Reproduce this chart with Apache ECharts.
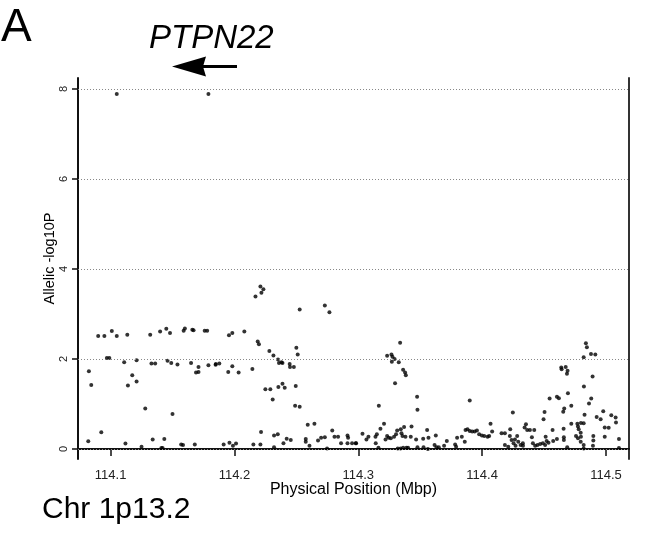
<!DOCTYPE html>
<html>
<head>
<meta charset="utf-8">
<script src="https://cdn.jsdelivr.net/npm/echarts@6/dist/echarts.min.js"></script>
<style>
  html, body { margin: 0; padding: 0; background: #fff; }
  #chart { width: 648px; height: 537px; }
</style>
</head>
<body>
<div id="chart"></div>
<script>
// [position (Mbp), allelic -log10P]
const peakPts = [[114.105, 7.89], [114.179, 7.89]];

const westPts = [
  [114.090, 2.51], [114.095, 2.51], [114.101, 2.62], [114.105, 2.51], [114.1135, 2.54],
  [114.132, 2.54], [114.140, 2.61], [114.145, 2.67], [114.148, 2.58], [114.159, 2.63],
  [114.160, 2.68], [114.166, 2.65], [114.167, 2.64], [114.176, 2.63], [114.178, 2.63],
  [114.097, 2.02], [114.099, 2.02], [114.111, 1.93], [114.121, 1.97], [114.133, 1.90],
  [114.136, 1.90], [114.146, 1.96], [114.149, 1.91], [114.154, 1.88], [114.165, 1.91],
  [114.171, 1.82], [114.169, 1.70], [114.171, 1.71], [114.179, 1.86], [114.185, 1.89],
  [114.0825, 1.73], [114.0844, 1.42], [114.1175, 1.64], [114.114, 1.41], [114.121, 1.50],
  [114.128, 0.90], [114.150, 0.78],
  [114.082, 0.17], [114.0925, 0.37], [114.112, 0.12], [114.125, 0.05], [114.134, 0.21],
  [114.141, 0.02], [114.142, 0.02], [114.1434, 0.22], [114.157, 0.10], [114.1585, 0.09],
  [114.168, 0.10]
];

const midPts = [
  [114.221, 3.61], [114.2234, 3.55], [114.2218, 3.47], [114.217, 3.39], [114.2527, 3.10],
  [114.273, 3.19], [114.2767, 3.04],
  [114.1956, 2.53], [114.1983, 2.58], [114.208, 2.61], [114.2188, 2.39], [114.2198, 2.33],
  [114.2282, 2.18], [114.2315, 2.08], [114.2352, 1.99], [114.236, 1.91], [114.238, 1.93],
  [114.2388, 1.91], [114.250, 2.25], [114.2511, 2.10], [114.2446, 1.89], [114.2449, 1.82],
  [114.248, 1.82], [114.1848, 1.87], [114.1878, 1.90], [114.1983, 1.84], [114.195, 1.71],
  [114.2034, 1.70], [114.2145, 1.78],
  [114.225, 1.33], [114.229, 1.33], [114.2355, 1.38], [114.2388, 1.45], [114.2406, 1.36],
  [114.2495, 1.40], [114.2309, 1.10], [114.249, 0.96], [114.2527, 0.94],
  [114.2592, 0.54], [114.2646, 0.56], [114.279, 0.41], [114.2215, 0.38], [114.232, 0.30],
  [114.235, 0.33], [114.1913, 0.10], [114.196, 0.14], [114.1988, 0.07], [114.2013, 0.12],
  [114.2153, 0.10], [114.221, 0.10], [114.232, 0.04], [114.2396, 0.13], [114.2422, 0.23],
  [114.2455, 0.20], [114.2576, 0.22], [114.2576, 0.16], [114.2606, 0.07], [114.2675, 0.19],
  [114.270, 0.25], [114.273, 0.26], [114.2748, 0.01], [114.2808, 0.27], [114.2837, 0.27],
  [114.2861, 0.13], [114.2913, 0.30], [114.2918, 0.25], [114.2913, 0.13], [114.295, 0.13],
  [114.2982, 0.13]
];

const eastPts = [
  [114.3338, 2.36], [114.3233, 2.07], [114.3268, 2.10], [114.3276, 2.05], [114.3293, 2.00],
  [114.3271, 1.94], [114.3327, 1.93], [114.3362, 1.76], [114.3378, 1.70], [114.3384, 1.64],
  [114.3297, 1.46], [114.3475, 1.16], [114.3478, 0.87], [114.3166, 0.96], [114.390, 1.08],
  [114.298, 0.13], [114.3034, 0.34], [114.3066, 0.21], [114.3082, 0.27], [114.3139, 0.27],
  [114.315, 0.33], [114.3141, 0.13], [114.3163, 0.03], [114.3179, 0.45], [114.3208, 0.56],
  [114.322, 0.21], [114.3233, 0.29], [114.3246, 0.25], [114.3263, 0.24], [114.3289, 0.27],
  [114.3305, 0.33], [114.3314, 0.41], [114.3343, 0.44], [114.3349, 0.35], [114.3357, 0.29],
  [114.337, 0.49], [114.3381, 0.27], [114.3319, 0.01], [114.3341, 0.01], [114.3362, 0.03],
  [114.3389, 0.03], [114.3402, 0.03], [114.343, 0.50], [114.3424, 0.27], [114.3467, 0.21],
  [114.3478, 0.04], [114.3524, 0.23], [114.3527, 0.04], [114.3556, 0.42], [114.3567, 0.25],
  [114.3562, 0.00], [114.3616, 0.09], [114.3626, 0.30], [114.3632, 0.04], [114.365, 0.04],
  [114.3693, 0.07], [114.3715, 0.18], [114.3782, 0.10], [114.379, 0.05], [114.3798, 0.25],
  [114.3836, 0.27], [114.386, 0.16], [114.3866, 0.42], [114.3882, 0.44], [114.390, 0.40],
  [114.392, 0.39], [114.394, 0.39], [114.3958, 0.41], [114.3976, 0.33], [114.3998, 0.30],
  [114.4017, 0.29], [114.4044, 0.27], [114.4057, 0.29], [114.4081, 0.39], [114.4068, 0.56]
];

const farPts = [
  [114.4838, 2.35], [114.4846, 2.26], [114.482, 2.04], [114.4879, 2.11], [114.4914, 2.10],
  [114.4639, 1.81], [114.4675, 1.82], [114.469, 1.74], [114.4685, 1.67], [114.4642, 1.77],
  [114.4892, 1.61], [114.4822, 1.39], [114.4693, 1.24], [114.4881, 1.12], [114.4604, 1.16],
  [114.462, 1.13], [114.4545, 1.12], [114.472, 0.96], [114.4863, 1.01], [114.4663, 0.90],
  [114.4655, 0.83], [114.4248, 0.81], [114.4504, 0.82], [114.4496, 0.66], [114.4827, 0.76],
  [114.4925, 0.71], [114.4957, 0.66], [114.4978, 0.84], [114.5043, 0.75], [114.5078, 0.70],
  [114.5081, 0.59], [114.499, 0.48], [114.5022, 0.47], [114.4354, 0.55], [114.4343, 0.48],
  [114.4364, 0.42], [114.4386, 0.42], [114.4421, 0.42], [114.4569, 0.42], [114.4658, 0.45],
  [114.472, 0.56], [114.4769, 0.56], [114.4798, 0.58], [114.482, 0.57], [114.4774, 0.50],
  [114.478, 0.44], [114.466, 0.26], [114.466, 0.20], [114.4758, 0.29], [114.4774, 0.24],
  [114.4796, 0.36], [114.4798, 0.27], [114.4796, 0.16], [114.482, 0.09], [114.482, 0.01],
  [114.4898, 0.29], [114.4898, 0.19], [114.4895, 0.07], [114.499, 0.27], [114.5105, 0.22],
  [114.5105, 0.02], [114.4687, 0.04], [114.4604, 0.22], [114.4574, 0.18], [114.4513, 0.27],
  [114.4521, 0.18],
  [114.4157, 0.35], [114.4184, 0.35], [114.4227, 0.44], [114.4224, 0.29], [114.4238, 0.20],
  [114.4254, 0.13], [114.427, 0.07], [114.4283, 0.29], [114.4292, 0.16], [114.4311, 0.09],
  [114.433, 0.07], [114.4184, 0.09], [114.4211, 0.05], [114.4402, 0.26], [114.441, 0.13],
  [114.4428, 0.07], [114.4447, 0.09], [114.4469, 0.11], [114.4491, 0.13], [114.4509, 0.09],
  [114.4536, 0.14], [114.4329, 0.13], [114.4265, 0.21]
];

const xTicks = [114.1, 114.2, 114.3, 114.4, 114.5];
const yTicks = [0, 2, 4, 6, 8];

const allPts = [].concat(peakPts, westPts, midPts, eastPts, farPts);
const FONT = '"Liberation Sans", Arial, sans-serif';

const chart = echarts.init(document.getElementById('chart'));

chart.setOption({
  animation: false,
  backgroundColor: '#fff',
  grid: { left: 78, right: 19, top: 78, bottom: 78 },
  xAxis: {
    type: 'value',
    min: 114.0737,
    max: 114.5186,
    name: 'Physical Position (Mbp)',
    nameLocation: 'middle',
    nameGap: 23,
    nameMoveOverlap: false,
    nameTextStyle: { color: '#000', fontSize: 16, fontFamily: FONT, verticalAlign: 'top' },
    axisLine: { show: true, lineStyle: { color: '#111', width: 2 } },
    axisTick: { show: true, customValues: xTicks, length: 7, lineStyle: { color: '#111', width: 1.5 } },
    axisLabel: { customValues: xTicks, color: '#222', fontSize: 13, fontFamily: FONT, margin: 10,
      formatter: v => v.toFixed(1) },
    splitLine: { show: false }
  },
  yAxis: [{
    type: 'value',
    min: -0.222,
    max: 8.244,
    name: 'Allelic -log10P',
    nameLocation: 'middle',
    nameRotate: 90,
    nameGap: 21,
    nameMoveOverlap: false,
    nameTextStyle: { color: '#000', fontSize: 14.5, fontFamily: FONT, padding: [0, 0, 0, 20] },
    axisLine: { show: true, lineStyle: { color: '#111', width: 2 } },
    axisTick: { show: true, customValues: yTicks, length: 6, lineStyle: { color: '#111', width: 1.5 } },
    axisLabel: { customValues: yTicks, color: '#222', fontSize: 11, fontFamily: FONT, rotate: 90, margin: 9 },
    splitLine: { show: false }
  }, {
    type: 'value',
    position: 'right',
    min: -0.222,
    max: 8.244,
    axisLine: { show: true, lineStyle: { color: '#333', width: 2 } },
    axisTick: { show: false },
    axisLabel: { show: false },
    splitLine: { show: false }
  }],
  graphic: [
    { type: 'text', left: 1, top: 5, style: { text: 'A', fontSize: 46, fontFamily: FONT, fill: '#000' } },
    { type: 'text', left: 149, top: 22, style: { text: 'PTPN22', fontSize: 33, fontStyle: 'italic', fontFamily: FONT, fill: '#000' } },
    { type: 'polygon', shape: { points: [[172, 66.5], [206, 56.5], [203, 66.5], [206, 76.5]] }, style: { fill: '#000' } },
    { type: 'line', shape: { x1: 203, y1: 66.5, x2: 237, y2: 66.5 }, style: { stroke: '#000', lineWidth: 3 } },
    { type: 'text', left: 42, top: 495, style: { text: 'Chr 1p13.2', fontSize: 30, fontFamily: FONT, fill: '#000' } }
  ],
  series: [{
    type: 'scatter',
    data: allPts,
    symbol: 'circle',
    symbolSize: 4,
    itemStyle: { color: '#000' },
    silent: true,
    markLine: {
      silent: true,
      symbol: 'none',
      label: { show: false },
      lineStyle: { color: '#888', type: [1, 2], width: 1 },
      data: yTicks.map(v => ({ yAxis: v }))
    }
  }]
});
</script>
</body>
</html>
